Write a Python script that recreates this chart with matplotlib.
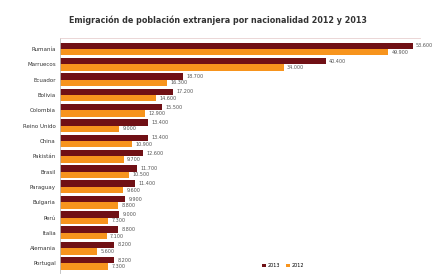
import numpy as np
import matplotlib.pyplot as plt

paises = ['Rumanía', 'Marruecos', 'Ecuador', 'Bolivia', 'Colombia', 'Reino Unido',
          'China', 'Pakistán', 'Brasil', 'Paraguay', 'Bulgaria', 'Perú', 'Italia',
          'Alemania', 'Portugal']
v2013 = [53600, 40400, 18700, 17200, 15500, 13400, 13400, 12600, 11700, 11400,
         9900, 9000, 8800, 8200, 8200]
v2012 = [49900, 34000, 16300, 14600, 12900, 9000, 10900, 9700, 10500, 9600,
         8800, 7300, 7100, 5600, 7300]

def fmt(v):
    return '{:,}'.format(v).replace(',', '.')

fig = plt.figure(figsize=(4.35, 2.76), dpi=100)
ax = fig.add_axes([0.138, 0.012, 0.827, 0.852])

y = np.arange(len(paises))
h = 0.42
c13 = '#701015'
c12 = '#f7941d'
ax.barh(y - h / 2, v2013, height=h, color=c13, label='2013')
ax.barh(y + h / 2, v2012, height=h, color=c12, label='2012')

for i in range(len(paises)):
    ax.text(v2013[i] + 500, y[i] - h / 2, fmt(v2013[i]), fontsize=3.5,
            color='#555555', va='center', clip_on=False)
    ax.text(v2012[i] + 500, y[i] + h / 2, fmt(v2012[i]), fontsize=3.5,
            color='#555555', va='center', clip_on=False)

ax.set_yticks(y)
ax.set_yticklabels(paises, fontsize=4, color='#333333')
ax.set_ylim(len(paises) - 0.4, -0.75)
ax.set_xlim(0, 54700)
ax.set_xticks([])
ax.tick_params(axis='y', length=0, pad=3)
for s in ['right', 'bottom']:
    ax.spines[s].set_visible(False)
ax.spines['top'].set_color('#e8d0d0')
ax.spines['top'].set_linewidth(0.6)
ax.spines['left'].set_color('#bbbbbb')
ax.spines['left'].set_linewidth(0.6)

ax.legend(loc='lower left', bbox_to_anchor=(0.55, 0.0), ncol=2, frameon=False,
          fontsize=3.5, handlelength=0.8, handleheight=0.8, columnspacing=1.2,
          handletextpad=0.3)

fig.suptitle('Emigración de población extranjera por nacionalidad 2012 y 2013',
             fontsize=5.8, fontweight='bold', color='#333333', y=0.945)

fig.savefig('out.png', dpi=100)
